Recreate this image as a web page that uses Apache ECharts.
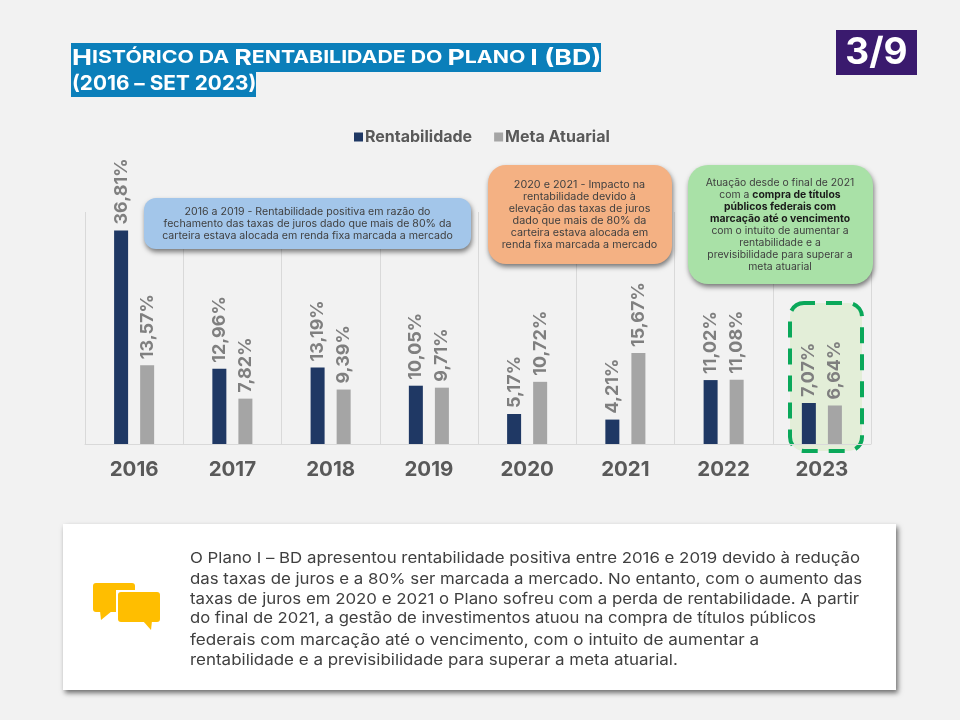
<!DOCTYPE html>
<html><head><meta charset="utf-8">
<style>html,body{margin:0;padding:0;background:#f2f2f2}#c{width:960px;height:720px}</style>
<script src="https://cdn.jsdelivr.net/npm/echarts@6/dist/echarts.min.js"></script></head>
<body><div id="c"></div>
<script>
const categories = ['2016','2017','2018','2019','2020','2021','2022','2023'];
const rentabilidade = [36.81,12.96,13.19,10.05,5.17,4.21,11.02,7.07];
const metaAtuarial = [13.57,7.82,9.39,9.71,10.72,15.67,11.08,6.64];
const bodyLines = [
 'O Plano I – BD apresentou rentabilidade positiva entre 2016 e 2019 devido à redução',
 'das taxas de juros e a 80% ser marcada a mercado. No entanto, com o aumento das',
 'taxas de juros em 2020 e 2021 o Plano sofreu com a perda de rentabilidade. A partir',
 'do final de 2021, a gestão de investimentos atuou na compra de títulos públicos',
 'federais com marcação até o vencimento, com o intuito de aumentar a',
 'rentabilidade e a previsibilidade para superar a meta atuarial.'];
const bodyScale = [1.122,1.122,1.122,1.11,1.14,1.13];
const blueLines = ['2016 a 2019 - Rentabilidade positiva em razão do','fechamento das taxas de juros dado que mais de 80% da','carteira estava alocada em renda fixa marcada a mercado'];
const orangeLines = ['2020 e 2021 - Impacto na','rentabilidade devido à','elevação das taxas de juros','dado que mais de 80% da','carteira estava alocada em','renda fixa marcada a mercado'];
const greenLines = ['Atuação desde o final de 2021','com a {b|compra de títulos}','{b|públicos federais com}','{b|marcação até o vencimento}','com o intuito de aumentar a','rentabilidade e a','previsibilidade para superar a','meta atuarial'];
const FONT='Inter';
const pct=v=>v.toFixed(2).replace('.',',')+'%';
function txt(x,y,text,size,color,weight,align,z,sx){
  return {type:'text',x,y,z:z||20,scaleX:sx||1,silent:true,style:{text,fontFamily:FONT,fontSize:size,fontWeight:weight||'normal',fill:color,align:align||'left',verticalAlign:'middle'}};
}
function box(x,y,w,h,r,fill){
  return {type:'rect',z:15,silent:true,shape:{x,y,width:w,height:h,r},style:{fill,shadowBlur:5,shadowOffsetX:1,shadowOffsetY:3,shadowColor:'rgba(0,0,0,0.5)'}};
}
const Y='#ffbe00';
const graphics=[
 {type:'rect',z:-1,silent:true,shape:{x:71,y:43,width:530,height:29},style:{fill:'#0b7fba'}},
 {type:'rect',z:-1,silent:true,shape:{x:71,y:71,width:185,height:26},style:{fill:'#0b7fba'}},
 {type:'text',x:72,y:58,z:20,scaleX:1.215,silent:true,style:{text:'{l|H}{s|ISTÓRICO DA }{l|R}{s|ENTABILIDADE DO }{l|P}{s|LANO }{l|I (BD)}',fill:'#fff',verticalAlign:'middle',rich:{l:{fontFamily:FONT,fontWeight:'bold',fontSize:22,fill:'#fff',color:'#fff'},s:{fontFamily:FONT,fontWeight:'bold',fontSize:17.5,fill:'#fff',color:'#fff'}}}},
 txt(72,84,'(2016 – SET 2023)',20,'#fff','bold','left',20,1.04),
 {type:'rect',z:20,silent:true,shape:{x:836,y:30,width:81,height:45},style:{fill:'#3a1a6e'}},
 txt(876.5,53,'3/9',37,'#fff','bold','center'),
 {type:'rect',z:0,silent:true,shape:{x:790,y:303,width:72,height:148,r:14},style:{fill:'#e3eed8',stroke:'#0aa85a',lineWidth:4,lineDash:[16,11],lineDashOffset:5}},
 box(144,198,327,51,12,'#a3c6ea'),
 box(488,165,184,99,18,'#f4b183'),
 box(688,165,185,119,20,'#a9e1a7'),
 {type:'rect',z:20,silent:true,shape:{x:63,y:524,width:833,height:166},style:{fill:'#fff',shadowBlur:5,shadowOffsetX:2,shadowOffsetY:3,shadowColor:'rgba(0,0,0,0.55)'}},
 {type:'rect',z:21,silent:true,shape:{x:93,y:583,width:42,height:29,r:3},style:{fill:Y}},
 {type:'polygon',z:21,silent:true,shape:{points:[[100,611],[112,611],[101,620]]},style:{fill:Y}},
 {type:'rect',z:21,silent:true,shape:{x:116,y:590,width:45,height:33},style:{fill:'#fff'}},
 {type:'rect',z:22,silent:true,shape:{x:118,y:592,width:42,height:30,r:3},style:{fill:Y}},
 {type:'polygon',z:22,silent:true,shape:{points:[[143,621],[152,621],[151,630]]},style:{fill:Y}}
];
const bodyY=[558,579,599,618,640,660];
bodyLines.forEach((l,i)=>graphics.push(txt(190,bodyY[i],l,15,'#404040','normal','left',23,bodyScale[i])));
blueLines.forEach((l,i)=>graphics.push(txt(307.5,212+i*12,l,10,'#404040','normal','center',23,1.06)));
orangeLines.forEach((l,i)=>graphics.push(txt(579.5,185+i*12,l,10,'#404040','normal','center',23,1.08)));
greenLines.forEach((l,i)=>graphics.push({type:'text',x:780,y:183+i*12,z:23,scaleX:1.04,silent:true,style:{text:l,fontFamily:FONT,fontSize:10,fill:'#404040',align:'center',verticalAlign:'middle',rich:{b:{fontFamily:FONT,fontSize:10,fontWeight:'bold',fill:'#1a1a1a',color:'#1a1a1a'}}}}));
const labelCfg={show:true,position:'top',rotate:90,align:'left',verticalAlign:'middle',distance:6,color:'#7f7f7f',fontFamily:FONT,fontWeight:'bold',fontSize:18,formatter:p=>pct(p.value)};
const chart=echarts.init(document.getElementById('c'),null,{renderer:'canvas'});
chart.setOption({
 backgroundColor:'#f2f2f2',animation:false,
 legend:{top:124,left:349,itemWidth:9,itemHeight:9,itemGap:22,icon:'rect',textStyle:{fontFamily:FONT,fontWeight:'bold',fontSize:16,color:'#595959',padding:[0,0,0,-3]},data:['Rentabilidade','Meta Atuarial']},
 grid:{left:85,right:89,top:212,bottom:276},
 xAxis:{type:'category',data:categories,axisTick:{show:false},axisLine:{lineStyle:{color:'#d9d9d9'}},splitLine:{show:true,lineStyle:{color:'#d9d9d9',width:1}},axisLabel:{color:'#595959',fontFamily:FONT,fontWeight:'bold',fontSize:20.5,margin:15,formatter:v=>v}},
 yAxis:{type:'value',min:0,max:40,show:false,splitLine:{show:false}},
 series:[
  {name:'Rentabilidade',type:'bar',data:rentabilidade,barWidth:14,barGap:'86%',itemStyle:{color:'#1f3864'},label:labelCfg},
  {name:'Meta Atuarial',type:'bar',data:metaAtuarial,barWidth:14,itemStyle:{color:'#a5a5a5'},label:labelCfg}
 ],
 graphic:{elements:graphics}
});
</script></body></html>
